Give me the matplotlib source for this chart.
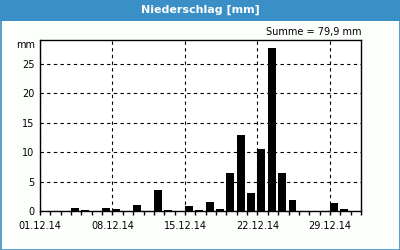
import matplotlib
matplotlib.use("Agg")
import matplotlib.pyplot as plt
from matplotlib.patches import Rectangle
from matplotlib.ticker import FixedLocator, MultipleLocator

# daily precipitation December 2014 (mm), day 1..31
DAYS = list(range(1, 32))
RAIN_MM = [0.0, 0.0, 0.0, 0.5, 0.2, 0.0, 0.5, 0.3, 0.0, 1.1,
           0.0, 3.5, 0.2, 0.0, 0.9, 0.2, 1.6, 0.4, 6.5, 13.0,
           3.0, 10.6, 27.7, 6.5, 1.9, 0.0, 0.0, 0.0, 1.3, 0.4,
           0.0]
TICK_DAYS = [1, 8, 15, 22, 29]
TICK_LABELS = ["01.12.14", "08.12.14", "15.12.14", "22.12.14", "29.12.14"]
TITLE = "Niederschlag [mm]"
SUM_TEXT = "Summe = 79,9 mm"

BLUE = "#3a8fc6"

fig = plt.figure(figsize=(4, 2.5), dpi=100, facecolor="#fdfffd")

# window frame + title bar
fig.patches.append(Rectangle((0, 229 / 250), 1, 21 / 250, transform=fig.transFigure,
                             facecolor=BLUE, edgecolor="none", zorder=0))
fig.patches.append(Rectangle((0.5 / 400, 0.5 / 250), 399 / 400, 249 / 250,
                             transform=fig.transFigure, facecolor="none",
                             edgecolor=BLUE, linewidth=1.2, zorder=0))
fig.text(0.5, 240 / 250, TITLE, color="white", fontsize=8, fontweight="bold",
         ha="center", va="center")

ax = fig.add_axes([40 / 400, 39 / 250, 321 / 400, 171 / 250])
ax.set_facecolor("white")

x = [d - 1 for d in DAYS]
ax.bar(x, RAIN_MM, width=0.77, align="edge", color="black", zorder=3)

ax.set_xlim(0, 31)
ax.set_ylim(0, 29.1)

ax.xaxis.set_major_locator(FixedLocator([d - 1 for d in TICK_DAYS]))
ax.set_xticklabels(TICK_LABELS)
ax.xaxis.set_minor_locator(MultipleLocator(1))
ax.yaxis.set_major_locator(FixedLocator([0, 5, 10, 15, 20, 25]))

ax.tick_params(axis="x", which="major", length=3, width=1, direction="out",
               labelsize=7, pad=4)
ax.tick_params(axis="x", which="minor", length=3, width=1, direction="out")
ax.tick_params(axis="y", length=0, labelsize=7, pad=4)

ax.grid(True, which="major", color="black", linestyle=(0, (3, 3)), linewidth=0.8, zorder=1)
for s in ax.spines.values():
    s.set_linewidth(1)
    s.set_color("black")

ax.text(-0.015, 1.0 - 0.03, "mm", transform=ax.transAxes, ha="right", va="center", fontsize=7)
ax.text(1.0, 1.045, SUM_TEXT, transform=ax.transAxes, ha="right", va="center", fontsize=7)

fig.savefig("out.png", dpi=100, facecolor=fig.get_facecolor())
